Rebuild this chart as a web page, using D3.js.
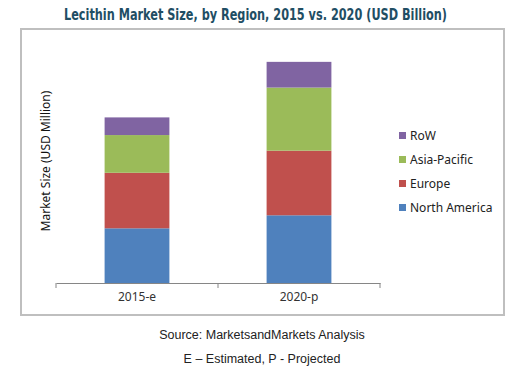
<!DOCTYPE html>
<html>
<head>
<meta charset="utf-8">
<script src="https://cdn.jsdelivr.net/npm/d3@7"></script>
<style>
  body { margin: 0; background: #fff; }
  svg { display: block; }
</style>
</head>
<body>
<div id="graf"></div>
<script>
// data (USD billion, estimated; no axis values in source)
const years = ["2015-e", "2020-p"]
const regions = ["North America", "Europe", "Asia-Pacific", "RoW"]
const northAmerica = [0.319, 0.395]
const europe = [0.324, 0.377]
const asiaPacific = [0.220, 0.368]
const row = [0.103, 0.150]
const colors = ["#4F81BD", "#C0504D", "#9BBB59", "#8064A2"]

const anchoTotal = 524
const altoTotal = 374

const svg = d3.select("#graf")
  .append("svg")
  .attr("width", anchoTotal)
  .attr("height", altoTotal)

// frame
svg.append("rect")
  .attr("x", 21).attr("y", 29)
  .attr("width", 483).attr("height", 286)
  .attr("fill", "none")
  .attr("stroke", "#BFBFBF")
  .attr("stroke-width", 2)

// condensed title, squeezed to the reference width
svg.append("text")
  .attr("x", 64).attr("y", 20)
  .attr("textLength", 383)
  .attr("lengthAdjust", "spacingAndGlyphs")
  .attr("fill", "#1F4E64")
  .style("font-family", "'DejaVu Sans Condensed', 'Liberation Sans', sans-serif")
  .style("font-weight", "bold")
  .style("font-size", "15px")
  .text("Lecithin Market Size, by Region, 2015 vs. 2020 (USD Billion)")

const x = d3.scaleBand().domain(years).range([56, 380])
const y = d3.scaleLinear().domain([0, 1.4]).range([283, 43])

const table = years.map((yr, i) => ({
  year: yr,
  "North America": northAmerica[i],
  "Europe": europe[i],
  "Asia-Pacific": asiaPacific[i],
  "RoW": row[i]
}))
const stacked = d3.stack().keys(regions)(table)

const barW = x.bandwidth() * 0.4

svg.append("g")
  .selectAll("g")
  .data(stacked)
  .enter()
  .append("g")
  .attr("fill", (d, i) => colors[i])
  .selectAll("rect")
  .data((d) => d)
  .enter()
  .append("rect")
  .attr("x", (d) => x(d.data.year) + (x.bandwidth() - barW) / 2)
  .attr("y", (d) => y(d[1]))
  .attr("width", barW)
  .attr("height", (d) => y(d[0]) - y(d[1]))

// category axis, Excel style ticks between categories
const xAxis = d3.axisBottom(x).tickSize(0).tickPadding(9)
const ax = svg.append("g")
  .attr("transform", `translate(0, ${y(0)})`)
  .call(xAxis)
ax.select(".domain").attr("stroke", "#868686").attr("stroke-width", 1.2)
ax.selectAll("text")
  .attr("fill", "#333")
  .style("font-family", "'Noto Sans', 'Liberation Sans', sans-serif")
  .style("font-size", "12px")

const edges = years.map((d) => x(d)).concat([x.range()[1]])
ax.selectAll(".sep")
  .data(edges)
  .enter()
  .append("line")
  .attr("x1", (d) => d).attr("x2", (d) => d)
  .attr("y1", 0).attr("y2", 5)
  .attr("stroke", "#868686")

svg.append("text")
  .attr("transform", "translate(50, 161) rotate(-90)")
  .attr("text-anchor", "middle")
  .attr("fill", "#111")
  .style("font-family", "'Noto Sans', 'Liberation Sans', sans-serif")
  .style("font-size", "12px")
  .text("Market Size (USD Million)")

// legend, top to bottom reversed like the stack
const legend = svg.append("g")
  .selectAll("g")
  .data(regions.slice().reverse())
  .enter()
  .append("g")
  .attr("transform", (d, i) => `translate(399, ${136 + i * 24})`)

legend.append("rect")
  .attr("x", 0).attr("y", -4)
  .attr("width", 7).attr("height", 7)
  .attr("fill", (d) => colors[regions.indexOf(d)])

legend.append("text")
  .attr("x", 11).attr("y", 4)
  .attr("fill", "#222")
  .style("font-family", "'Noto Sans', 'Liberation Sans', sans-serif")
  .style("font-size", "12px")
  .text((d) => d)

const notes = ["Source: MarketsandMarkets Analysis", "E \u2013 Estimated, P - Projected"]
svg.selectAll(".note")
  .data(notes)
  .enter()
  .append("text")
  .attr("x", 262)
  .attr("y", (d, i) => 339 + i * 24)
  .attr("text-anchor", "middle")
  .attr("fill", "#222")
  .style("font-family", "'Liberation Sans', Arial, sans-serif")
  .style("font-size", "12.5px")
  .text((d) => d)
</script>
</body>
</html>
